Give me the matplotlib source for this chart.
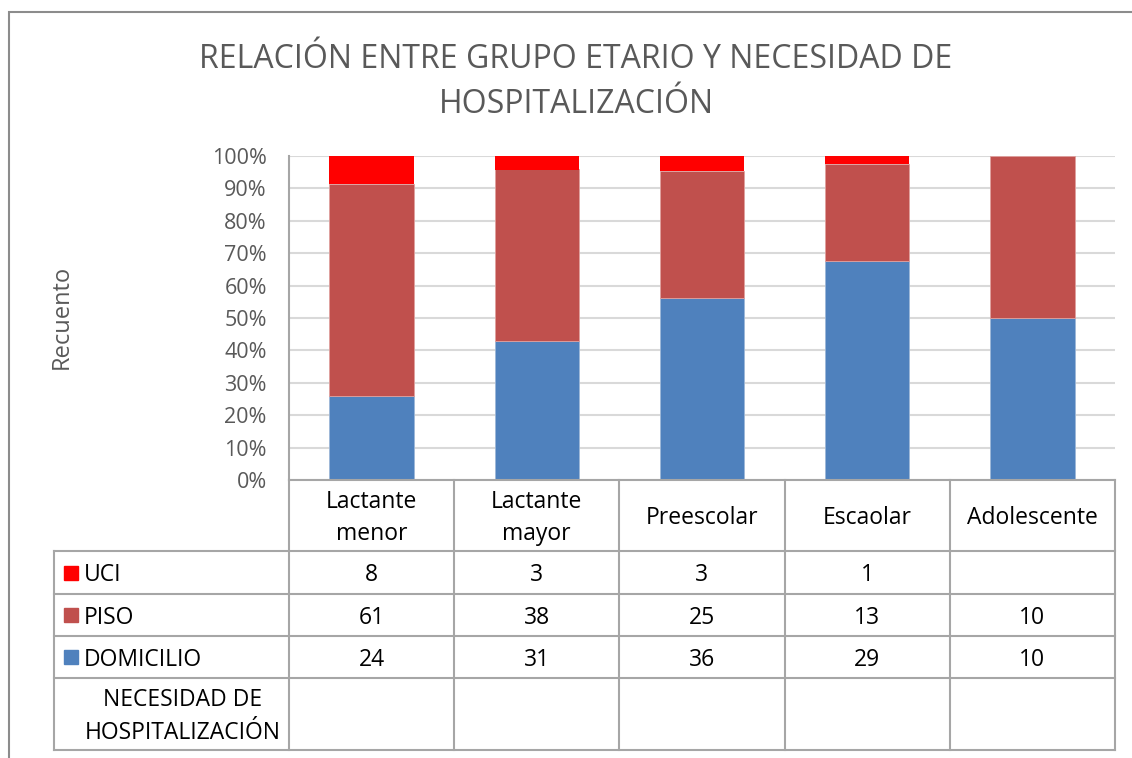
import matplotlib
matplotlib.use("Agg")
from matplotlib import pyplot as plt
from matplotlib.patches import Rectangle
from matplotlib.ticker import PercentFormatter
import numpy as np

plt.rcParams['font.family'] = ['Open Sans', 'DejaVu Sans']

CATEGORIES = ["Lactante\nmenor", "Lactante\nmayor", "Preescolar", "Escaolar", "Adolescente"]
UCI = [8, 3, 3, 1, 0]
PISO = [61, 38, 25, 13, 10]
DOMICILIO = [24, 31, 36, 29, 10]
UCI_LABELS = ["8", "3", "3", "1", ""]

TITLE = "RELACIÓN ENTRE GRUPO ETARIO Y NECESIDAD DE\nHOSPITALIZACIÓN"
Y_LABEL = "Recuento"
TABLE_FOOT = "NECESIDAD DE\nHOSPITALIZACIÓN"

C_UCI = "#FF0000"
C_PISO = "#C0504D"
C_DOM = "#4F81BD"
GRAY = "#595959"
LINE = "#A6A6A6"
FS = 16.5

W, H = 1132, 758
fig = plt.figure(figsize=(W / 100, H / 100), dpi=100)

# outer chart frame (runs off right/bottom of the crop)
fig.patches.append(Rectangle((9 / W, -0.1), 1.2, 1 - 12 / H + 0.1,
                             transform=fig.transFigure, fill=False,
                             edgecolor="#8c8c8c", lw=1.5, clip_on=False))

fig.text(576 / W, 1 - 82 / H, TITLE, ha="center", va="center",
         fontsize=23, color=GRAY, linespacing=1.48)

# ---- main stacked 100% bars ----
px_l, px_r, px_t, px_b = 289, 1115, 156, 480
ax = fig.add_axes([px_l / W, 1 - px_b / H, (px_r - px_l) / W, (px_b - px_t) / H])

uci = np.array(UCI, float)
piso = np.array(PISO, float)
dom = np.array(DOMICILIO, float)
tot = uci + piso + dom
x = np.arange(len(CATEGORIES))
bw = 0.51
ax.bar(x, dom / tot, bw, color=C_DOM, edgecolor="#9db7d8", lw=0.6, zorder=3)
ax.bar(x, piso / tot, bw, bottom=dom / tot, color=C_PISO, edgecolor="#e0a09e", lw=0.6, zorder=3)
ax.bar(x, uci / tot, bw, bottom=(dom + piso) / tot, color=C_UCI, lw=0, zorder=3)

ax.set_xlim(-0.5, len(CATEGORIES) - 0.5)
ax.set_ylim(0, 1)
ax.set_yticks(np.arange(0, 1.01, 0.1))
ax.yaxis.set_major_formatter(PercentFormatter(1.0, decimals=0))
ax.tick_params(axis="y", length=0, pad=16, labelsize=15.5, labelcolor=GRAY)
ax.set_xticks([])
ax.grid(axis="y", color="#D9D9D9", lw=1.5, zorder=0)
for s in ["top", "right", "bottom"]:
    ax.spines[s].set_visible(False)
ax.spines["left"].set_color("#A6A6A6")
ax.spines["left"].set_linewidth(1.5)

fig.text(62 / W, 1 - 317 / H, Y_LABEL, rotation=90, ha="center", va="center",
         fontsize=17, color=GRAY)

# ---- data table underneath ----
tbl_l, tbl_t, tbl_b = 54, 480, 750
colw = (px_r - px_l) / len(CATEGORIES)
tx = fig.add_axes([tbl_l / W, 1 - tbl_b / H, (px_r - tbl_l) / W, (tbl_b - tbl_t) / H])
left = -0.5 - (px_l - tbl_l) / colw
tx.set_xlim(left, len(CATEGORIES) - 0.5)
tx.set_ylim(tbl_b - tbl_t, 0)
tx.axis("off")

rows = [0, 71, 114, 156, 198, 270]
dy = 2.5  # nudge text to sit like the reference
kw = dict(color=LINE, lw=1.5, solid_capstyle="projecting", clip_on=False)
# header row lines
tx.plot([-0.5, len(CATEGORIES) - 0.5], [rows[0], rows[0]], **kw)
for r in rows[1:]:
    tx.plot([left, len(CATEGORIES) - 0.5], [r, r], **kw)
for i in range(len(CATEGORIES) + 1):
    tx.plot([i - 0.5, i - 0.5], [rows[0], rows[-1]], **kw)
tx.plot([left, left], [rows[1], rows[-1]], **kw)

for i, c in enumerate(CATEGORIES):
    tx.text(i, (rows[0] + rows[1]) / 2 + dy, c, ha="center", va="center",
            fontsize=FS, linespacing=1.45)

series = [("UCI", C_UCI, UCI_LABELS),
          ("PISO", C_PISO, [str(v) for v in PISO]),
          ("DOMICILIO", C_DOM, [str(v) for v in DOMICILIO])]
mk_x = left + (71 - tbl_l) / colw
tx_x = left + (84 - tbl_l) / colw
for k, (name, col, labels) in enumerate(series):
    yc = (rows[k + 1] + rows[k + 2]) / 2
    tx.plot([mk_x], [yc], marker="s", ms=10.5, color=col, mec=col, clip_on=False)
    tx.text(tx_x, yc + dy, name, ha="left", va="center", fontsize=FS)
    for i, lab in enumerate(labels):
        tx.text(i, yc + dy, lab, ha="center", va="center", fontsize=FS)

tx.text(left + (183 - tbl_l) / colw, (rows[4] + rows[5]) / 2 + dy, TABLE_FOOT,
        ha="center", va="center", fontsize=FS, linespacing=1.45)

fig.savefig("out.png", dpi=100)
